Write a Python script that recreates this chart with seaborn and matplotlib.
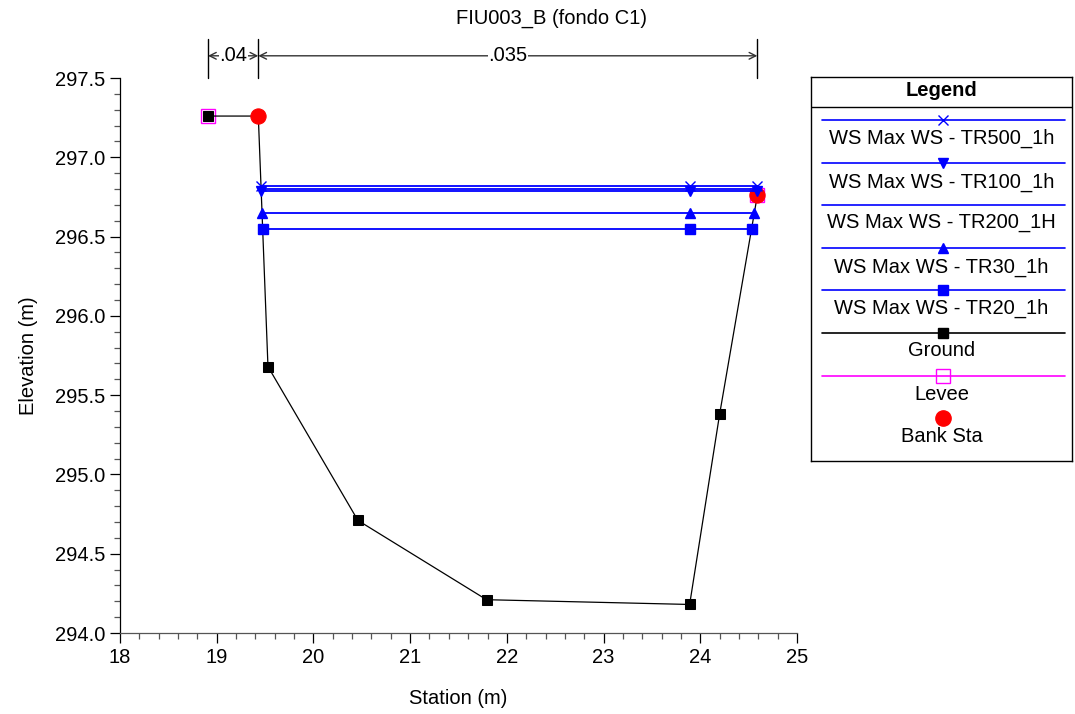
import numpy as np
import pandas as pd
import seaborn as sns
import matplotlib.pyplot as plt
from matplotlib.ticker import MultipleLocator
from matplotlib.transforms import blended_transform_factory

sns.set_style("ticks")
plt.rcParams["font.family"] = ["Liberation Sans", "DejaVu Sans"]
plt.rcParams["text.color"] = "black"
plt.rcParams["axes.labelcolor"] = "black"
plt.rcParams["xtick.color"] = "black"
plt.rcParams["ytick.color"] = "black"

# data
ground_x = [18.91, 19.43, 19.53, 20.46, 21.79, 23.89, 24.20, 24.59]
ground_y = [297.26, 297.26, 295.68, 294.71, 294.21, 294.18, 295.38, 296.76]

levee_x = [18.91, 24.59]
levee_y = [297.26, 296.76]
bank_x = [19.43, 24.59]
bank_y = [297.26, 296.76]

tr500_x = [19.46, 23.89, 24.59]
tr500_y = [296.82, 296.82, 296.82]
tr100_x = [19.46, 23.89, 24.59]
tr100_y = [296.79, 296.79, 296.79]
tr200_x = [19.46, 23.89, 24.59]
tr200_y = [296.80, 296.80, 296.80]
tr30_x = [19.47, 23.89, 24.56]
tr30_y = [296.65, 296.65, 296.65]
tr20_x = [19.48, 23.89, 24.53]
tr20_y = [296.55, 296.55, 296.55]

n_labels = [".04", ".035"]
n_breaks = [18.91, 19.43, 24.59]

BLUE = "#0000ff"
FS = 14.5
ws_series = [
    ("WS Max WS - TR500_1h", tr500_x, tr500_y, "x", 7, BLUE),
    ("WS Max WS - TR100_1h", tr100_x, tr100_y, "v", 7, BLUE),
    ("WS Max WS - TR200_1H", tr200_x, tr200_y, None, 0, BLUE),
    ("WS Max WS - TR30_1h", tr30_x, tr30_y, "^", 7, BLUE),
    ("WS Max WS - TR20_1h", tr20_x, tr20_y, "s", 6.5, BLUE),
]

fig = plt.figure(figsize=(10.75, 7.14), dpi=100)
ax = fig.add_axes([120 / 1075, 81 / 714, 677 / 1075, 555 / 714])

# ground, levee, bank stations
sns.lineplot(x=ground_x, y=ground_y, ax=ax, sort=False, estimator=None,
             color="black", lw=0.9, marker="s", markersize=6.5,
             markeredgecolor="black", zorder=3)
sns.lineplot(x=levee_x, y=levee_y, ax=ax, sort=False, estimator=None,
             color="#ff00ff", lw=0, marker="s", markersize=10,
             markerfacecolor="none", markeredgecolor="#ff00ff",
             markeredgewidth=1.0, zorder=2)
sns.lineplot(x=bank_x, y=bank_y, ax=ax, sort=False, estimator=None,
             color="red", lw=0, marker="o", markersize=11,
             markeredgecolor="red", zorder=4)

for name, xs, ys, mk, ms, col in ws_series:
    sns.lineplot(x=xs, y=ys, ax=ax, sort=False, estimator=None,
                 color=col, lw=1.3, marker=mk, markersize=ms,
                 markeredgecolor=col, markeredgewidth=1.0, zorder=5)

ax.set_xlim(18, 25)
ax.set_ylim(294.0, 297.5)
ax.xaxis.set_major_locator(MultipleLocator(1))
ax.xaxis.set_minor_locator(MultipleLocator(0.2))
ax.yaxis.set_major_locator(MultipleLocator(0.5))
ax.yaxis.set_minor_locator(MultipleLocator(0.1))
ax.yaxis.set_major_formatter(plt.FormatStrFormatter("%.1f"))
ax.tick_params(axis="both", which="major", direction="out", length=7,
               width=0.9, labelsize=FS, colors="black")
ax.tick_params(axis="both", which="minor", direction="out", length=4,
               width=0.9, color="#555555")
sns.despine(ax=ax)
ax.spines["left"].set_linewidth(0.9)
ax.spines["left"].set_color("black")
ax.spines["bottom"].set_linewidth(0.9)
ax.spines["bottom"].set_color("#555555")
ax.set_xlabel("Station (m)", fontsize=FS, labelpad=16)
ax.set_ylabel("Elevation (m)", fontsize=FS, labelpad=12)

fig.text(552 / 1075, 1 - 18 / 714, "FIU003_B (fondo C1)", ha="center",
         va="center", fontsize=FS)

# Manning's n brackets above the plot
tr = blended_transform_factory(ax.transData, ax.transAxes)
for xb in n_breaks:
    ax.plot([xb, xb], [1.0, 1.07], transform=tr, color="black", lw=1,
            clip_on=False)
for i, lab in enumerate(n_labels):
    x0, x1 = n_breaks[i], n_breaks[i + 1]
    ax.annotate("", xy=(x0, 1.04), xytext=(x1, 1.04), xycoords=tr,
                textcoords=tr,
                arrowprops=dict(arrowstyle="<->", color="#333333", lw=1,
                                shrinkA=0, shrinkB=0, mutation_scale=12))
    ax.text((x0 + x1) / 2, 1.04, lab, transform=tr, ha="center",
            va="center", fontsize=FS,
            bbox=dict(facecolor="white", edgecolor="none", pad=0.5))

# legend box drawn in its own axes (pixel-like coordinates)
lax = fig.add_axes([811 / 1075, 253 / 714, 261 / 1075, 384 / 714])
lax.set_xlim(0, 261)
lax.set_ylim(384, 0)
lax.set_xticks([])
lax.set_yticks([])
for sp in lax.spines.values():
    sp.set_visible(True)
    sp.set_color("black")
    sp.set_linewidth(1)
lax.text(130.5, 13, "Legend", ha="center", va="center", fontsize=FS,
         fontweight="bold")
lax.plot([0, 261], [30, 30], color="black", lw=1)

entries = [
    ("WS Max WS - TR500_1h", 43, 61, "x", 7, BLUE, BLUE),
    ("WS Max WS - TR100_1h", 86, 105, "v", 7, BLUE, BLUE),
    ("WS Max WS - TR200_1H", 128, 146, None, 0, BLUE, BLUE),
    ("WS Max WS - TR30_1h", 171, 190, "^", 7, BLUE, BLUE),
    ("WS Max WS - TR20_1h", 213, 231, "s", 6.5, BLUE, BLUE),
    ("Ground", 256, 274, "s", 6.5, "black", "black"),
    ("Levee", 299, 318, "s", 10, "#ff00ff", "none"),
]
for lab, ly, ty, mk, ms, col, fc in entries:
    lax.plot([11, 254], [ly, ly], color=col, lw=1.2)
    if mk is not None:
        lax.plot([132], [ly], marker=mk, markersize=ms, color=col,
                 markerfacecolor=fc, markeredgecolor=col, lw=0)
    lax.text(130.5, ty, lab, ha="center", va="center", fontsize=FS)
lax.plot([132], [341], marker="o", markersize=11, color="red", lw=0)
lax.text(130.5, 360, "Bank Sta", ha="center", va="center", fontsize=FS)

fig.savefig("out.png", dpi=100)
